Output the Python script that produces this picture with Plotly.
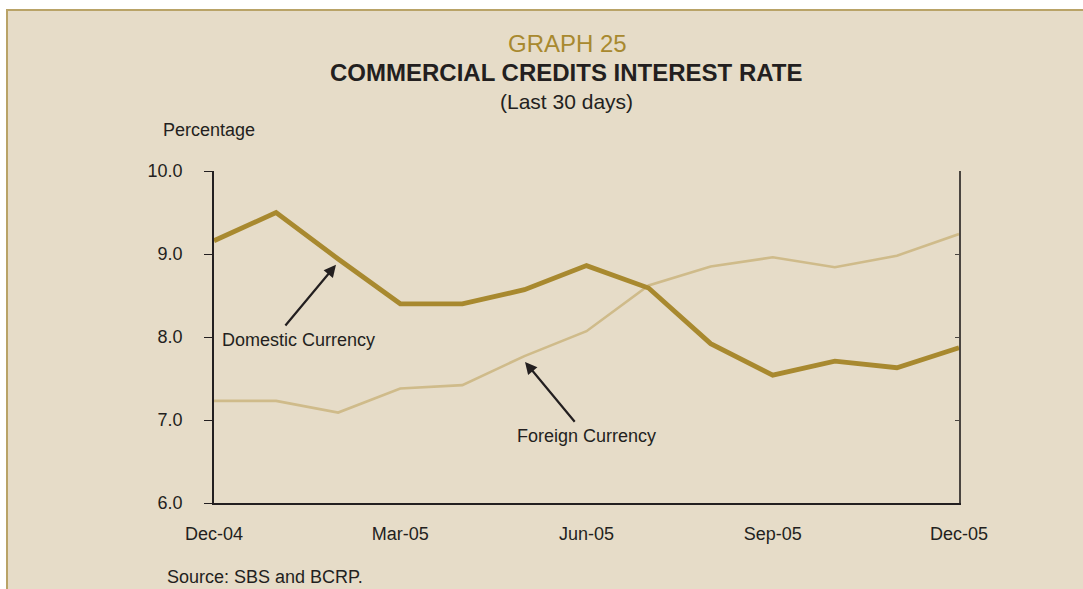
import plotly.graph_objects as go

# Monthly observations, Dec-04 .. Dec-05
months = ["Dec-04", "Jan-05", "Feb-05", "Mar-05", "Apr-05", "May-05", "Jun-05",
          "Jul-05", "Aug-05", "Sep-05", "Oct-05", "Nov-05", "Dec-05"]
domestic = [9.16, 9.50, 8.94, 8.40, 8.40, 8.57, 8.86, 8.59, 7.92, 7.54, 7.71, 7.63, 7.87]
foreign = [7.23, 7.23, 7.09, 7.38, 7.42, 7.77, 8.07, 8.62, 8.85, 8.96, 8.84, 8.98, 9.24]
tick_labels = ["Dec-04", "Mar-05", "Jun-05", "Sep-05", "Dec-05"]
y_ticks = [6.0, 7.0, 8.0, 9.0, 10.0]

W, H = 1083, 589
L, R, T, B = 214, 959, 171, 503  # plot-area edges in page pixels

BG = "#e6dcc8"
FRAME = "#b9a367"
GOLD = "#a8892f"
SAND = "#cfbb8a"
INK = "#231f20"
FONT = "Liberation Sans, Arial, sans-serif"


def px(x):
    return (x - L) / (R - L)


def py(y):
    return (B - y) / (B - T)


idx = list(range(len(months)))
tick_pos = [months.index(m) for m in tick_labels]

fig = go.Figure()
fig.add_trace(go.Scatter(x=idx, y=foreign, mode="lines", name="Foreign Currency",
                         line=dict(color=SAND, width=2.6), showlegend=False))
fig.add_trace(go.Scatter(x=idx, y=domestic, mode="lines", name="Domestic Currency",
                         line=dict(color=GOLD, width=4.8), showlegend=False))
# invisible trace to carry the right-hand axis
fig.add_trace(go.Scatter(x=[idx[0]], y=[y_ticks[0]], yaxis="y2", mode="markers",
                         marker=dict(opacity=0), hoverinfo="skip", showlegend=False))

fig.update_layout(
    width=W, height=H,
    margin=dict(l=L, r=W - R, t=T, b=H - B),
    paper_bgcolor="white",
    plot_bgcolor="rgba(0,0,0,0)",
    font=dict(family=FONT, color=INK, size=18),
    xaxis=dict(range=[0, len(months) - 1], tickvals=tick_pos, ticktext=tick_labels,
               showgrid=False, zeroline=False, showline=True, linecolor=INK, linewidth=1.5,
               ticks="", ticklabelstandoff=14, tickfont=dict(size=18)),
    yaxis=dict(range=[6, 10], tickvals=y_ticks, ticktext=[f"{v:.1f}" for v in y_ticks],
               showgrid=False, zeroline=False, showline=True, linecolor=INK, linewidth=1.5,
               ticks="outside", ticklen=8, tickcolor=INK, tickwidth=1.2,
               ticklabelstandoff=18, tickfont=dict(size=18)),
    yaxis2=dict(range=[6, 10], overlaying="y", side="right", tickvals=y_ticks,
                showgrid=False, zeroline=False, showline=True, linecolor="#4a4540",
                linewidth=1.5, ticks="inside", ticklen=4, tickcolor="#4a4540",
                showticklabels=False),
)

# page frame
fig.add_shape(type="rect", xref="paper", yref="paper",
              x0=px(7), x1=px(W + 20), y0=py(H + 20), y1=py(10),
              fillcolor=BG, line=dict(color=FRAME, width=2), layer="below")

annotations = [
    dict(text="GRAPH 25", x=px(567), y=py(43), font=dict(size=24, color=GOLD)),
    dict(text="<b>COMMERCIAL CREDITS INTEREST RATE</b>", x=px(566), y=py(72),
         font=dict(size=24, color=INK)),
    dict(text="(Last 30 days)", x=px(566), y=py(101), font=dict(size=21, color=INK)),
    dict(text="Percentage", x=px(161), y=py(130), xanchor="left", font=dict(size=18)),
    dict(text="Source: SBS and BCRP.", x=px(165), y=py(577), xanchor="left",
         font=dict(size=18)),
]
for a in annotations:
    a.update(xref="paper", yref="paper", showarrow=False)
    a.setdefault("xanchor", "center")
    a.setdefault("yanchor", "middle")
    fig.add_annotation(**a)

# series labels with pointer arrows
fig.add_annotation(x=1.965, y=8.87, ax=1.13, ay=8.12, xref="x", yref="y",
                   axref="x", ayref="y", text="", showarrow=True,
                   arrowhead=2, arrowsize=1.1, arrowwidth=2.2, arrowcolor=INK)
fig.add_annotation(x=0.10, y=7.96, xref="x", yref="y", text="Domestic Currency",
                   showarrow=False, xanchor="left", yanchor="middle",
                   font=dict(size=18))
fig.add_annotation(x=5.01, y=7.70, ax=5.83, ay=6.96, xref="x", yref="y",
                   axref="x", ayref="y", text="", showarrow=True,
                   arrowhead=2, arrowsize=1.1, arrowwidth=2.2, arrowcolor=INK)
fig.add_annotation(x=4.85, y=6.81, xref="x", yref="y", text="Foreign Currency",
                   showarrow=False, xanchor="left", yanchor="middle",
                   font=dict(size=18))

fig.write_html("out.html")
